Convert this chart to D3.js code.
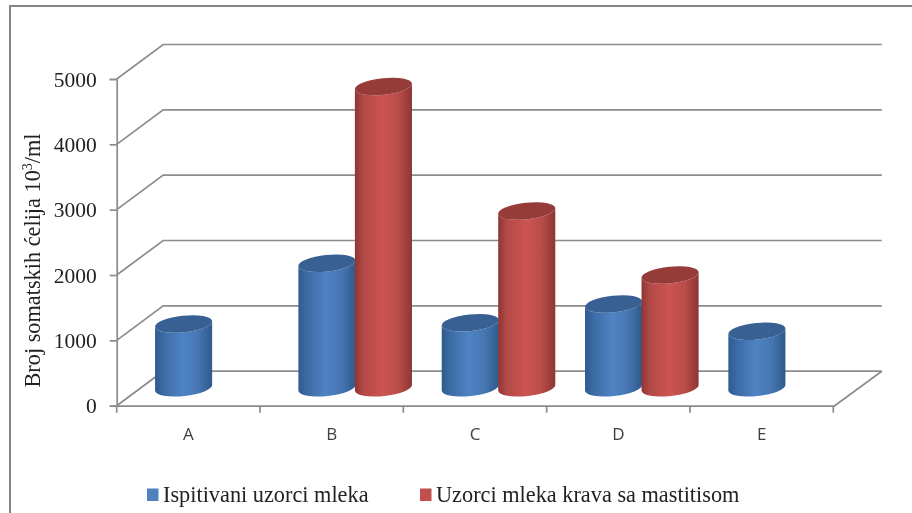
<!DOCTYPE html>
<html><head><meta charset="utf-8">
<script src="https://cdn.jsdelivr.net/npm/d3@7/dist/d3.min.js"></script>
<style>html,body{margin:0;padding:0;background:#fff;overflow:hidden}svg{display:block}</style>
</head><body>
<script>
const categories = ["A","B","C","D","E"];
const seriesNames = ["Ispitivani uzorci mleka","Uzorci mleka krava sa mastitisom"];
const series1 = [975,1905,995,1280,865];
const series2 = [null,4610,2705,1725,null];
const yTicks = [0,1000,2000,3000,4000,5000];

const W=912,H=513;
const svg=d3.select("body").append("svg").attr("width",W).attr("height",H);
const defs=svg.append("defs");
defs.append("filter").attr("id","soft").attr("x","-5%").attr("y","-5%").attr("width","110%").attr("height","110%")
  .append("feGaussianBlur").attr("stdDeviation",0.4);
function grad(id,stops){
  const g=defs.append("linearGradient").attr("id",id);
  stops.forEach(s=>g.append("stop").attr("offset",s[0]).attr("stop-color",s[1]));
}
grad("blue",[[0,"#2f5a8f"],[0.15,"#3c6ba5"],[0.48,"#4f83c4"],[0.75,"#4676b2"],[1,"#2f5a8c"]]);
grad("red",[[0,"#8f3533"],[0.15,"#b24a47"],[0.48,"#cb5452"],[0.75,"#bb4d4a"],[1,"#8c3634"]]);
const fills=["url(#blue)","url(#red)"], tops=["#376092","#953a38"], keys=["#4f81bd","#c0504d"];

const root=svg.append("g").attr("filter","url(#soft)");
root.append("rect").attr("x",10).attr("y",6).attr("width",W+20).attr("height",H+20)
  .attr("fill","#fff").attr("stroke","#868686").attr("stroke-width",2);

const GRID="#8c8c8c";
const x=d3.scaleBand().domain(categories).range([116.7,833.3]);
const y=d3.scaleLinear().domain([0,5000]).range([405.7,79]);
const depth={x:46.5,y:-34.5};      // back wall offset of the 3-D box
const bar={x:23.5,y:-18};          // bar base offset into the box
const inner=d3.scaleBand().domain([0,1]).range([x.bandwidth()/2-56.5,x.bandwidth()/2+56.5]);

// walls and floor
const grid=root.append("g").attr("fill","none").attr("stroke",GRID).attr("stroke-width",1.7);
yTicks.forEach(t=>{
  grid.append("path").attr("d",d3.line()([
    [x.range()[0],y(t)],
    [x.range()[0]+depth.x,y(t)+depth.y],
    [x.range()[1]+depth.x+2,y(t)+depth.y]
  ]));
});
grid.append("path").attr("d",d3.line()([
  [x.range()[1],y(0)+1],[x.range()[1]+depth.x+2,y(0)+depth.y]
]));

// axes
const axisY=root.append("g").attr("transform",`translate(${x.range()[0]},0)`)
  .call(d3.axisLeft(y).tickValues(yTicks).tickSize(7).tickPadding(13).tickFormat(d3.format("d")));
axisY.selectAll("path,line").attr("stroke",GRID).attr("stroke-width",1.7);
axisY.selectAll("text").attr("font-family","'Liberation Serif',serif").attr("font-size",21.5).attr("fill","#222").attr("dy","0.33em");

const axisX=root.append("g").attr("transform",`translate(0,${y(0)})`)
  .call(d3.axisBottom(x).tickSize(0).tickPadding(22));
axisX.select("path").attr("stroke",GRID).attr("stroke-width",1.7);
axisX.selectAll("text").attr("font-family","'Open Sans',sans-serif").attr("font-size",17).attr("fill","#404040");
const edges=categories.map(c=>x(c)).concat([x.range()[1]]);
axisX.selectAll("line.edge").data(edges).enter().append("line").attr("class","edge")
  .attr("x1",d=>d).attr("x2",d=>d).attr("y1",0).attr("y2",7)
  .attr("stroke",GRID).attr("stroke-width",1.7);

// cylinders
const RX=28.7,RY=8.3,ROT=-6;
const rad=ROT*Math.PI/180,ex=RX*Math.cos(rad),ey=RX*Math.sin(rad);
function cylinder(g,cx,yBase,yTop,s){
  g.append("path").attr("d",
    `M${cx-ex},${yTop-ey}L${cx-ex},${yBase-ey}`+
    `A${RX},${RY} ${ROT} 0 0 ${cx+ex},${yBase+ey}`+
    `L${cx+ex},${yTop+ey}`+
    `A${RX},${RY} ${ROT} 0 1 ${cx-ex},${yTop-ey}Z`)
    .attr("fill",fills[s]);
  g.append("ellipse").attr("rx",RX).attr("ry",RY)
    .attr("transform",`translate(${cx},${yTop}) rotate(${ROT})`).attr("fill",tops[s]);
}
const bars=root.append("g");
categories.forEach((c,i)=>{
  [series1[i],series2[i]].forEach((v,s)=>{
    if(v==null) return;
    const cx=x(c)+inner(s)+inner.bandwidth()/2+bar.x;
    cylinder(bars,cx,y(0)+bar.y,y(v)+bar.y,s);
  });
});

// y title
root.append("text").attr("transform","translate(40,260.5) rotate(-90)").attr("text-anchor","middle")
  .attr("font-family","'Liberation Serif',serif").attr("font-size",22.3).attr("fill","#222")
  .call(t=>{
    t.append("tspan").text("Broj somatskih ćelija 10");
    t.append("tspan").attr("font-size",14).attr("dy",-8).text("3");
    t.append("tspan").attr("dy",8).text("/ml");
  });

// legend
const legendX=[147,420];
seriesNames.forEach((n,i)=>{
  root.append("rect").attr("x",legendX[i]).attr("y",488.5).attr("width",11.5).attr("height",12.5).attr("fill",keys[i]);
  root.append("text").attr("x",legendX[i]+16).attr("y",502)
    .attr("font-family","'Liberation Serif',serif").attr("font-size",22.3).attr("fill","#222").text(n);
});
</script>
</body></html>
